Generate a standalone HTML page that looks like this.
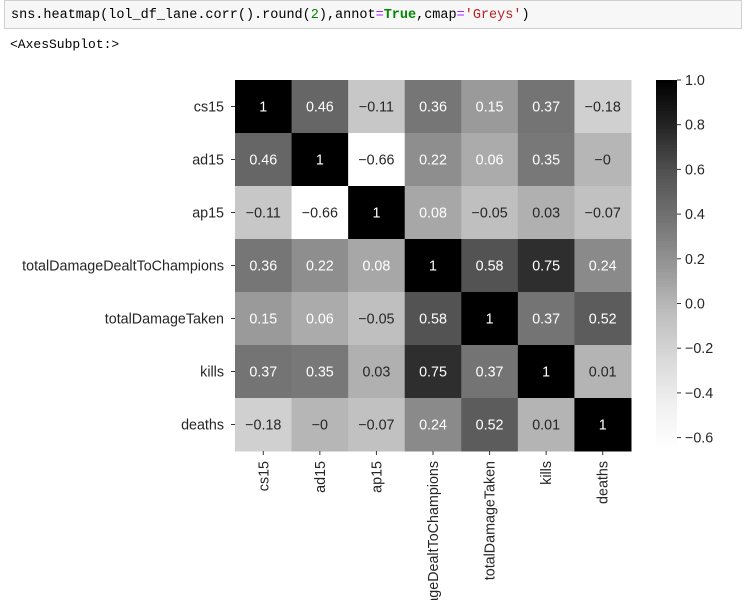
<!DOCTYPE html>
<html><head><meta charset="utf-8"><style>
html,body{margin:0;width:744px;height:600px;background:#fff;overflow:hidden;font-family:"Liberation Sans","NanumGothic",sans-serif;}
#code{position:absolute;left:4px;top:0;width:738px;height:29px;background:#f7f7f7;border:1px solid #cfcfcf;box-sizing:border-box;font-family:"Liberation Mono",monospace;font-size:13.5px;line-height:29px;padding-left:6px;color:#000;}
#out{position:absolute;left:10px;top:37px;font-family:"Liberation Mono",monospace;font-size:13px;}
svg{position:absolute;left:0;top:0;overflow:hidden}
</style></head><body>
<div id="code">sns.heatmap(lol_df_lane.corr().round(<span style="color:#080">2</span>),annot<span style="color:#a2f">=</span><b style="color:#080">True</b>,cmap<span style="color:#a2f">=</span><span style="color:#ba2121">'Greys'</span>)</div>
<div id="out">&lt;AxesSubplot:&gt;</div>
<svg id="chart" width="744" height="600"></svg>
<script>
const labels=["cs15","ad15","ap15","totalDamageDealtToChampions","totalDamageTaken","kills","deaths"];
const row0=[1,0.46,-0.11,0.36,0.15,0.37,-0.18];
const row1=[0.46,1,-0.66,0.22,0.06,0.35,-0];
const row2=[-0.11,-0.66,1,0.08,-0.05,0.03,-0.07];
const row3=[0.36,0.22,0.08,1,0.58,0.75,0.24];
const row4=[0.15,0.06,-0.05,0.58,1,0.37,0.52];
const row5=[0.37,0.35,0.03,0.75,0.37,1,0.01];
const row6=[-0.18,-0,-0.07,0.24,0.52,0.01,1];
const matrix=[row0,row1,row2,row3,row4,row5,row6];
const cbTicks=[1.0,0.8,0.6,0.4,0.2,0.0,-0.2,-0.4,-0.6];
const vmin=-0.66,vmax=1;
const NS="http://www.w3.org/2000/svg";
const svg=document.getElementById('chart');
const X0=235,X1=631,Y0=80,Y1=451;
const cw=(X1-X0)/labels.length,ch=(Y1-Y0)/labels.length;
const FS='14.3';
const stops=[[255,255,255],[240,240,240],[217,217,217],[189,189,189],[150,150,150],[115,115,115],[82,82,82],[37,37,37],[0,0,0]];
function rgb(v){let t=(v-vmin)/(vmax-vmin);t=Math.max(0,Math.min(1,t))*8;const i=Math.min(7,Math.floor(t)),f=t-i;return stops[i].map((a,k)=>Math.round(a+(stops[i+1][k]-a)*f));}
function color(v){return `rgb(${rgb(v)})`;}
function lum(v){const g=rgb(v)[0]/255;const l=g<=0.03928?g/12.92:Math.pow((g+0.055)/1.055,2.4);return l>0.42;}
function el(tag,attrs,txt){const e=document.createElementNS(NS,tag);for(const k in attrs)e.setAttribute(k,attrs[k]);if(txt!==undefined)e.textContent=txt;svg.appendChild(e);return e;}
function fmt(v){return (Object.is(v,-0)?"\u22120":String(v).replace('-','\u2212'));}
matrix.forEach((row,r)=>{row.forEach((v,c)=>{
 const rc=el('rect',{x:X0+c*cw,y:Y0+r*ch,width:cw+0.5,height:ch+0.5,fill:color(v)});
 
 
 const t=el('text',{x:X0+(c+0.5)*cw,y:Y0+(r+0.5)*ch+5,'text-anchor':'middle','font-size':FS,fill:lum(v)?'#262626':'#fff'},fmt(v));
 
 
});});
labels.forEach((l,i)=>{
 const y=Y0+(i+0.5)*ch;
 el('line',{x1:X0-4,x2:X0,y1:y,y2:y,stroke:'#333'});
 const t=el('text',{x:X0-11,y:y+5,'text-anchor':'end','font-size':FS,fill:'#262626'},l);
 
 
 const x=X0+(i+0.5)*cw;
 el('line',{x1:x,x2:x,y1:Y1,y2:Y1+4,stroke:'#333'});
 const t2=el('text',{x:0,y:0,'text-anchor':'end','font-size':FS,fill:'#262626',transform:`translate(${x+5},${Y1+10}) rotate(-90)`},l);
 
 
});
const CX=656,CW=21,N=120;
for(let i=0;i<N;i++){const v=vmax-(vmax-vmin)*(i+0.5)/N;
 const r=el('rect',{x:CX,y:Y0+(Y1-Y0)*i/N,width:CW,height:(Y1-Y0)/N+0.6,fill:color(v)});
 
 
}
cbTicks.forEach(v=>{const y=Y0+(vmax-v)/(vmax-vmin)*(Y1-Y0);
 el('line',{x1:CX+CW,x2:CX+CW+4,y1:y,y2:y,stroke:'#333'});
 const t=el('text',{x:CX+CW+8,y:y+5,'font-size':FS,fill:'#262626'},v.toFixed(1).replace('-','\u2212'));
 
 
});
</script>
</body></html>
